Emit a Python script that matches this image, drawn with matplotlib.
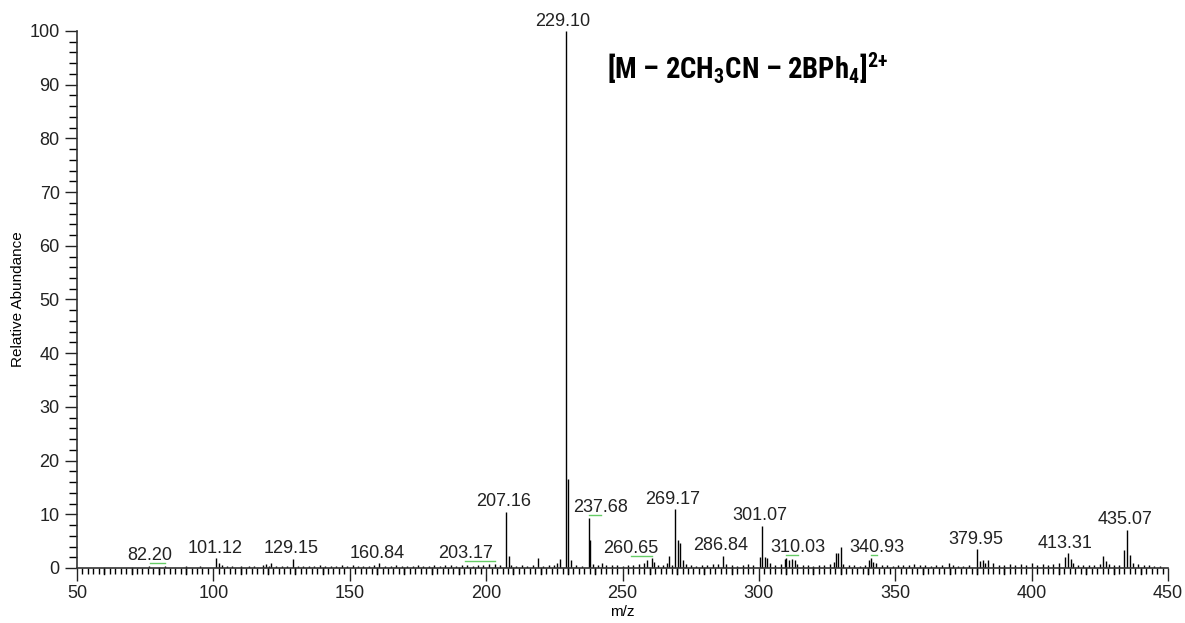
import matplotlib.pyplot as plt
import matplotlib.font_manager as fm
from matplotlib.ticker import MultipleLocator

plt.rcParams['font.family'] = ['Liberation Sans', 'DejaVu Sans']

# pick a narrow bold face for the ion formula if one is installed
names = {f.name for f in fm.fontManager.ttflist}
title_font = 'Liberation Sans'
for cand in ['Liberation Sans Narrow', 'Roboto Condensed', 'Open Sans Condensed',
             'Noto Sans Condensed', 'DejaVu Sans Condensed']:
    if cand in names:
        title_font = cand
        break
plt.rcParams['mathtext.fontset'] = 'custom'
plt.rcParams['mathtext.rm'] = title_font + ':bold'
plt.rcParams['mathtext.bf'] = title_font + ':bold'
plt.rcParams['mathtext.default'] = 'rm'

# peak list (m/z, relative abundance)
mz = [76.5, 82.2, 90, 95, 101.12, 102.1, 103.1, 105, 107, 110, 113, 115, 118, 119.1, 120.2,
      121.1, 123, 125, 127, 129.15, 131, 133, 135, 137, 139, 141, 143, 145, 147, 149, 151,
      153, 155, 157, 159, 160.84, 163, 165, 167, 169, 171, 173, 175, 177, 179, 181, 183,
      185, 187, 189, 191, 193, 195, 197, 199, 201, 203.17, 205, 207.16, 208.2, 209.2, 211,
      213, 215, 217, 219.1, 221, 223, 225, 226.1, 227.1, 229.10, 230.1, 231.1, 233, 235,
      237.68, 238.2, 239.2, 241, 242.4, 244, 246, 248, 250, 252, 254, 256, 258, 259.1,
      260.65, 261.6, 263, 265, 266.2, 267.2, 268, 269.17, 270.2, 271.2, 272.2, 273.2, 275,
      277, 279, 281, 283, 285, 286.84, 288, 290, 292, 294, 296, 298, 300.3, 301.07, 302.1,
      303.1, 304.1, 306, 308, 309.4, 310.03, 311, 312, 313.2, 314, 316, 318, 320, 322, 324,
      326, 327.5, 328.1, 329.1, 330.1, 331, 333, 335, 337, 339, 340.4, 340.93, 342, 343,
      345, 347, 349, 351, 353, 355, 357, 359, 361, 363, 365, 367, 369.8, 371, 373, 375, 377,
      379.95, 381, 382, 383, 384, 386, 388, 390, 392, 394, 396, 398, 400, 402, 404, 406,
      408, 410, 412.3, 413.31, 414.3, 415.3, 417, 419, 421, 423, 425, 426.3, 427.3, 428.3,
      430, 432, 434.0, 435.07, 436.1, 437, 439, 441, 443, 445, 447]
abund = [0.3, 0.4, 0.3, 0.3, 1.8, 0.9, 0.5, 0.4, 0.3, 0.3, 0.3, 0.4, 0.5, 0.8, 0.4,
         0.9, 0.3, 0.4, 0.3, 1.7, 0.4, 0.3, 0.4, 0.3, 0.5, 0.4, 0.3, 0.4, 0.5, 0.3, 0.6,
         0.4, 0.3, 0.4, 0.5, 0.9, 0.4, 0.3, 0.5, 0.4, 0.3, 0.4, 0.5, 0.3, 0.4, 0.5, 0.4,
         0.6, 0.5, 0.4, 0.6, 0.5, 0.4, 0.5, 0.6, 0.7, 0.8, 0.5, 10.5, 2.3, 0.5, 0.4,
         0.5, 0.4, 0.5, 1.9, 0.4, 0.5, 0.6, 0.9, 1.6, 100, 16.5, 1.5, 0.5, 0.4,
         9.4, 5.2, 0.8, 0.5, 1.0, 0.5, 0.6, 0.5, 0.4, 0.5, 0.6, 0.7, 1.0, 1.4,
         1.8, 1.2, 0.5, 0.6, 1.0, 2.3, 0.6, 11.0, 5.3, 4.7, 1.5, 0.8, 0.5,
         0.4, 0.6, 0.5, 0.7, 0.8, 2.3, 0.7, 0.5, 0.4, 0.6, 0.7, 0.5, 2.0, 7.9, 2.1,
         1.8, 1.0, 0.6, 0.8, 1.6, 1.9, 1.4, 1.7, 1.5, 0.8, 0.6, 0.5, 0.4, 0.5, 0.6,
         0.8, 1.2, 2.7, 2.7, 3.9, 0.8, 0.6, 0.5, 0.4, 0.6, 1.5, 1.9, 1.1, 0.9,
         0.6, 0.5, 0.4, 0.5, 0.6, 0.5, 0.7, 0.5, 0.6, 0.4, 0.6, 0.5, 1.0, 0.5, 0.4, 0.3, 0.5,
         3.5, 1.3, 1.5, 1.0, 1.5, 0.9, 0.6, 0.5, 0.7, 0.6, 0.8, 0.5, 0.9, 0.6, 0.7, 0.6,
         0.8, 0.9, 2.0, 2.7, 1.6, 1.0, 0.6, 0.5, 0.6, 0.5, 0.7, 2.2, 1.3, 0.8,
         0.6, 0.5, 3.4, 7.1, 2.4, 0.9, 0.7, 0.6, 0.5, 0.4, 0.3]

# labelled peaks and where their labels sit along m/z
label_mz = [82.20, 101.12, 129.15, 160.84, 203.17, 207.16, 229.10, 237.68, 260.65,
            269.17, 286.84, 301.07, 310.03, 340.93, 379.95, 413.31, 435.07]
label_x = [76.8, 100.8, 128.4, 160.0, 192.4, 206.5, 228.2, 242.1, 253.1,
           268.2, 285.9, 300.3, 314.3, 343.3, 379.4, 412.4, 434.4]
shifted = [82.20, 203.17, 237.68, 260.65, 310.03, 340.93]

fig = plt.figure(figsize=(11.85, 6.23), dpi=100)
ax = fig.add_axes([0.065, 0.0883, 0.9207, 0.862])

ax.vlines(mz, 0, abund, color='black', linewidth=1.0)

for m, x in zip(label_mz, label_x):
    h = abund[mz.index(m)]
    y = h + 1.0
    ax.text(x, y, '%.2f' % m, ha='center', va='baseline', fontsize=13, color='#222222')
    if m in shifted:
        # green leader from the peak to the moved label
        ax.plot([min(m, x), max(m, x)], [y - 0.55, y - 0.55], color='#66cc66', linewidth=1.0)

ax.set_xlim(50, 450)
ax.set_ylim(0, 100)
ax.xaxis.set_major_locator(MultipleLocator(50))
ax.xaxis.set_minor_locator(MultipleLocator(2))
ax.yaxis.set_major_locator(MultipleLocator(10))
ax.yaxis.set_minor_locator(MultipleLocator(2))
# medium ticks every 10 on m/z
for t in range(60, 450, 10):
    if t % 50:
        ax.plot([t, t], [0, -1.2], color='black', linewidth=1.0, clip_on=False)

ax.tick_params(axis='both', which='major', direction='out', length=9, width=1, labelsize=13, colors='#222222')
ax.tick_params(axis='both', which='minor', direction='out', length=4, width=1)
ax.tick_params(axis='y', which='major', length=9)
ax.tick_params(axis='y', which='minor', length=6)

ax.spines['top'].set_visible(False)
ax.spines['right'].set_visible(False)
for s in ['left', 'bottom']:
    ax.spines[s].set_color('#333333')
    ax.spines[s].set_linewidth(1.2)

ax.set_xlabel('m/z', fontsize=11, labelpad=2)
ax.set_ylabel('Relative Abundance', fontsize=11, labelpad=3)

title = ax.text(0.486, 0.931, r'[M – 2CH$_3$CN – 2BPh$_4$]$^{2{+}}$',
                transform=ax.transAxes, ha='left', va='center', fontsize=21,
                family=title_font, weight='bold', color='black')
# fit the formula to the width it has in the original (about 281 px)
fig.canvas.draw()
w = title.get_window_extent().width
title.set_fontsize(21 * 281.0 / w)

fig.savefig('out.png', dpi=100)
